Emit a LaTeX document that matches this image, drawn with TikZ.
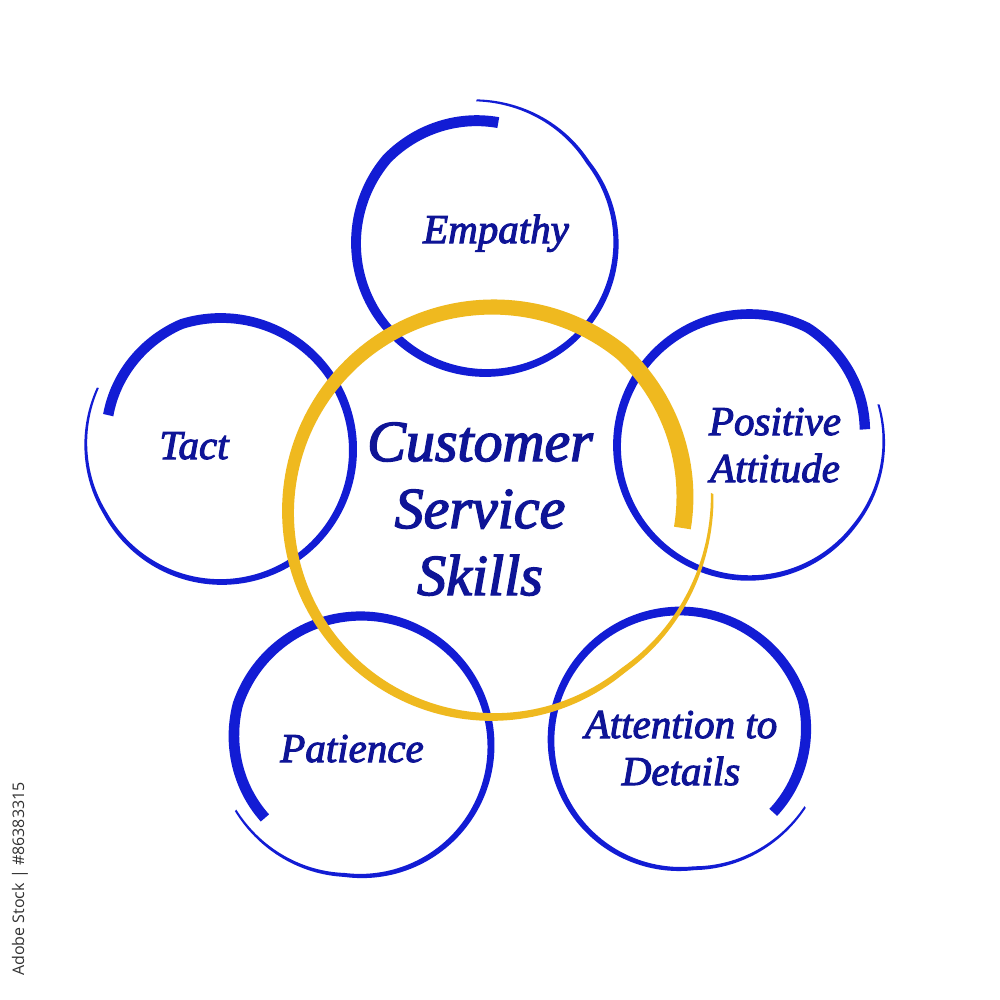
\documentclass[tikz,border=0pt]{standalone}
\usepackage{fontspec}
\setmainfont{Liberation Serif}
\newfontfamily\lab{Liberation Serif}[ItalicFeatures={FakeBold=2.5}]
\newfontfamily\wmfont{Open Sans}
\definecolor{ringblue}{RGB}{18,28,212}
\definecolor{textblue}{RGB}{14,20,150}
\definecolor{ringyellow}{RGB}{239,185,31}
\definecolor{wmgray}{RGB}{50,50,50}
% #1 centre, #2 start angle, #3 signed sweep, #4 radius, #5 start radius,
% #6 end radius, #7 start width, #8 end width, #9 colour
\newcommand\brushring[9]{%
  \fill[#9, shift={(#1)}]
    plot[domain=0:1, samples=200, variable=\s]
      ({(#4+(#5-#4)*max(0,1-\s/0.15)+(#6-#4)*max(0,(\s-0.85)/0.15)+0.5*(#7-(#7-#8)*\s^1.5))*cos(#2+#3*\s)},
       {(#4+(#5-#4)*max(0,1-\s/0.15)+(#6-#4)*max(0,(\s-0.85)/0.15)+0.5*(#7-(#7-#8)*\s^1.5))*sin(#2+#3*\s)})
    -- plot[domain=1:0, samples=200, variable=\s]
      ({(#4+(#5-#4)*max(0,1-\s/0.15)+(#6-#4)*max(0,(\s-0.85)/0.15)-0.5*(#7-(#7-#8)*\s^1.5))*cos(#2+#3*\s)},
       {(#4+(#5-#4)*max(0,1-\s/0.15)+(#6-#4)*max(0,(\s-0.85)/0.15)-0.5*(#7-(#7-#8)*\s^1.5))*sin(#2+#3*\s)})
    -- cycle;}
\tikzset{
  skill/.style={text=textblue, font=\lab\itshape\fontsize{20.5}{23.5}\selectfont, align=center, anchor=base, inner sep=0pt},
  title/.style={text=textblue, font=\lab\itshape\fontsize{29}{33.5}\selectfont, align=center, anchor=base, inner sep=0pt},
  mark wm/.style={text=wmgray, font=\wmfont\fontsize{8}{9}\selectfont, rotate=90, inner sep=0pt}
}
\begin{document}
\begin{tikzpicture}[x=0.5pt, y=-0.5pt]
\useasboundingbox (0,0) rectangle (1000,1000);
\fill[white] (0,0) rectangle (1000,1000);
% outer rings
\brushring{486,243}{-84}{-370}{130}{121}{143}{11}{2}{ringblue}
\brushring{221,450}{-163}{370}{132}{118}{138}{10.5}{2}{ringblue}
\brushring{749,446}{-8}{-370}{132}{117}{136}{10.5}{2}{ringblue}
\brushring{361,746}{143}{370}{130}{120}{141}{11}{2}{ringblue}
\brushring{680,740}{38}{-370}{129}{118}{142}{10.5}{2}{ringblue}
% central ring
\brushring{493,512}{5}{-370}{205}{190}{220}{17}{2.5}{ringyellow}
% labels (base anchor = baseline of the last line)
\node[title] (center) at (480,595) {Customer\\Service\\Skills};
\node[skill] (empathy) at (496,243) {Empathy};
\node[skill] (tact) at (194,459) {Tact};
\node[skill] (positive) at (775,482) {Positive\\Attitude};
\node[skill] (patience) at (352,762) {Patience};
\node[skill] (attention) at (681,785) {Attention to\\Details};
\node[mark wm] (wm) at (20,879) {Adobe Stock | \#86383315};
\end{tikzpicture}
\end{document}
